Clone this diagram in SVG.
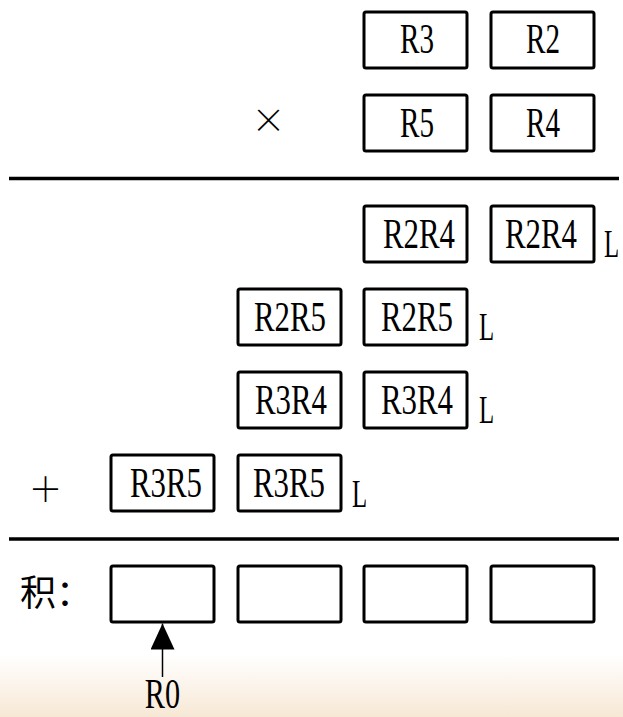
<svg xmlns="http://www.w3.org/2000/svg" width="623" height="717" viewBox="0 0 623 717">
<style>
.box{fill:#fff;stroke:#000;stroke-width:3}
.t{font-family:"Liberation Serif","Times New Roman",serif;font-size:42px;fill:#000;text-anchor:middle}
.l{font-family:"Liberation Serif","Times New Roman",serif;font-size:40px;fill:#000}
.cj{font-family:"Noto Sans CJK SC","Noto Sans CJK JP",sans-serif;fill:#000}
.rule{stroke:#000;stroke-width:3.5}
.conn{stroke:#000;stroke-width:1.5;fill:none}
</style>
<defs>
<linearGradient id="bg" x1="0" y1="655" x2="0" y2="717" gradientUnits="userSpaceOnUse">
<stop offset="0" stop-color="#ffffff"/>
<stop offset="1" stop-color="#f7e8d5"/>
</linearGradient>
<marker id="ah" markerUnits="userSpaceOnUse" markerWidth="26" markerHeight="24" viewBox="0 0 26 24" refX="26" refY="12" orient="auto">
<path d="M0,0 L26,12 L0,24 Z" fill="#000"/>
</marker>
</defs>
<rect x="0" y="0" width="623" height="717" fill="url(#bg)"/>

<g id="row-multiplicand">
<g id="n-R3"><rect class="box" x="364" y="12" width="103" height="56" rx="2"/><text class="t" x="417" y="53" textLength="34" lengthAdjust="spacingAndGlyphs">R3</text></g>
<g id="n-R2"><rect class="box" x="491" y="12" width="103" height="56" rx="2"/><text class="t" x="543" y="53" textLength="34" lengthAdjust="spacingAndGlyphs">R2</text></g>
</g>
<g id="row-multiplier">
<text id="times" class="cj" x="268.5" y="133" font-size="34" text-anchor="middle" font-weight="300">×</text>
<g id="n-R5"><rect class="box" x="364" y="95" width="103" height="56" rx="2"/><text class="t" x="417" y="137" textLength="34" lengthAdjust="spacingAndGlyphs">R5</text></g>
<g id="n-R4"><rect class="box" x="491" y="95" width="103" height="56" rx="2"/><text class="t" x="543" y="137" textLength="34" lengthAdjust="spacingAndGlyphs">R4</text></g>
</g>

<line class="rule" x1="9" y1="178.5" x2="619" y2="178.5"/>

<g id="row-R2R4">
<g id="n-R2R4-H"><rect class="box" x="364" y="206" width="103" height="56" rx="2"/><text class="t" x="419" y="248" textLength="72" lengthAdjust="spacingAndGlyphs">R2R4</text></g>
<g id="n-R2R4-L"><rect class="box" x="491" y="206" width="103" height="56" rx="2"/><text class="t" x="541" y="248" textLength="72" lengthAdjust="spacingAndGlyphs">R2R4</text></g>
<text class="l" transform="translate(604 257) scale(0.62 1)" x="0" y="0">L</text>
</g>
<g id="row-R2R5">
<g id="n-R2R5-H"><rect class="box" x="238" y="289" width="103" height="56" rx="2"/><text class="t" x="290" y="331" textLength="72" lengthAdjust="spacingAndGlyphs">R2R5</text></g>
<g id="n-R2R5-L"><rect class="box" x="364" y="289" width="103" height="56" rx="2"/><text class="t" x="417" y="331" textLength="72" lengthAdjust="spacingAndGlyphs">R2R5</text></g>
<text class="l" transform="translate(479 340) scale(0.62 1)" x="0" y="0">L</text>
</g>
<g id="row-R3R4">
<g id="n-R3R4-H"><rect class="box" x="238" y="372" width="103" height="56" rx="2"/><text class="t" x="291" y="414" textLength="72" lengthAdjust="spacingAndGlyphs">R3R4</text></g>
<g id="n-R3R4-L"><rect class="box" x="364" y="372" width="103" height="56" rx="2"/><text class="t" x="417" y="414" textLength="72" lengthAdjust="spacingAndGlyphs">R3R4</text></g>
<text class="l" transform="translate(479 423) scale(0.62 1)" x="0" y="0">L</text>
</g>
<g id="row-R3R5">
<text id="plus" class="cj" x="45.5" y="502" font-size="34" text-anchor="middle" font-weight="300">＋</text>
<g id="n-R3R5-H"><rect class="box" x="111" y="455" width="103" height="56" rx="2"/><text class="t" x="166" y="497" textLength="72" lengthAdjust="spacingAndGlyphs">R3R5</text></g>
<g id="n-R3R5-L"><rect class="box" x="238" y="455" width="103" height="56" rx="2"/><text class="t" x="289" y="497" textLength="72" lengthAdjust="spacingAndGlyphs">R3R5</text></g>
<text class="l" transform="translate(352 507) scale(0.62 1)" x="0" y="0">L</text>
</g>

<line class="rule" x1="9" y1="539" x2="619" y2="539"/>

<g id="row-product">
<text id="product-label" class="cj" x="20" y="606" font-size="36">积：</text>
<g id="n-P1"><rect class="box" x="111" y="566" width="103" height="56" rx="2"/></g>
<g id="n-P2"><rect class="box" x="238" y="566" width="103" height="56" rx="2"/></g>
<g id="n-P3"><rect class="box" x="364" y="566" width="103" height="56" rx="2"/></g>
<g id="n-P4"><rect class="box" x="491" y="566" width="103" height="56" rx="2"/></g>
</g>
<g id="n-R0"><text class="t" font-size="40" transform="translate(162.5 708) scale(0.72 1)" x="0" y="0">R0</text></g>

<g id="connectors">
<line class="conn" x1="162.5" y1="677" x2="162.5" y2="623.5" marker-end="url(#ah)"/>
</g>
</svg>
